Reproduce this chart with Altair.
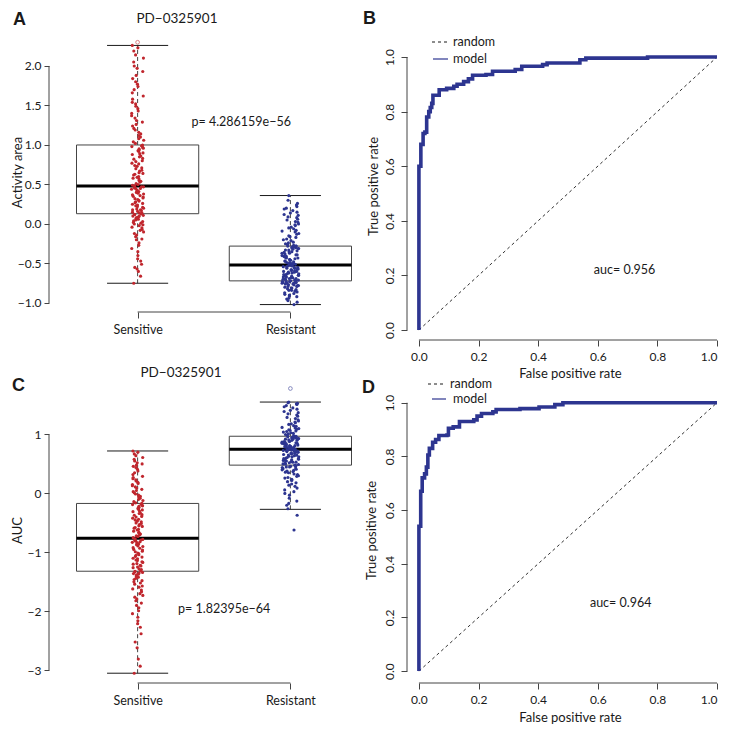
import altair as alt
import pandas as pd

FONT = "Lato"
RED = "#C0262D"
BLUE = "#2D3590"
INK = "#1a1a1a"
AX = "#444444"

categories = ["Sensitive", "Resistant"]
drug = "PD\u22120325901"

# ---------------- Panel A : Activity area ----------------
a_sensitive = [
    -0.75, -0.66, -0.60, -0.57, -0.55, -0.51, -0.47, -0.44, -0.40, -0.35, -0.31, -0.27, -0.24, -0.20,
    -0.19, -0.16, -0.14, -0.12, -0.10, -0.08, -0.07, -0.05, -0.04, -0.02, -0.01, 0.00, 0.01, 0.02,
    0.03, 0.04, 0.05, 0.06, 0.07, 0.08, 0.09, 0.10, 0.10, 0.11, 0.12, 0.12,
    0.13, 0.14, 0.14, 0.15, 0.16, 0.17, 0.18, 0.18, 0.19, 0.20, 0.21, 0.22, 0.23, 0.24, 0.25, 0.26,
    0.27, 0.28, 0.29, 0.30, 0.31, 0.32, 0.33, 0.34, 0.35, 0.36, 0.37, 0.38, 0.39, 0.40, 0.41, 0.42,
    0.43, 0.44, 0.45, 0.45, 0.46, 0.47, 0.47, 0.48,
    0.49, 0.50, 0.51, 0.53, 0.54, 0.55, 0.57, 0.58, 0.59, 0.60, 0.62, 0.63, 0.64, 0.65, 0.67, 0.68,
    0.70, 0.71, 0.73, 0.74, 0.76, 0.77, 0.79, 0.80, 0.82, 0.83, 0.85, 0.86, 0.88, 0.89, 0.90, 0.92,
    0.93, 0.94, 0.95, 0.96, 0.97, 0.98, 0.99, 1.00,
    1.02, 1.04, 1.06, 1.08, 1.10, 1.12, 1.14, 1.16, 1.19, 1.21, 1.24, 1.26, 1.29, 1.31, 1.34, 1.37,
    1.40, 1.43, 1.46, 1.49, 1.52, 1.54, 1.58, 1.62, 1.66, 1.70, 1.74, 1.77, 1.80, 1.84, 1.88, 1.93,
    1.97, 2.00, 2.05, 2.10, 2.14, 2.19, 2.23, 2.26,
]
a_resistant = [
    -1.02, -0.99, -0.97, -0.95, -0.94, -0.92, -0.91, -0.90, -0.89, -0.88, -0.87, -0.86, -0.85, -0.84,
    -0.84, -0.83, -0.82, -0.81, -0.81, -0.80, -0.79, -0.79, -0.78, -0.78, -0.77, -0.77, -0.76, -0.76,
    -0.75, -0.75, -0.75, -0.74, -0.74, -0.74, -0.73, -0.73, -0.73, -0.72, -0.72, -0.72,
    -0.71, -0.71, -0.70, -0.70, -0.70, -0.69, -0.69, -0.68, -0.68, -0.67, -0.67, -0.66, -0.66, -0.65,
    -0.65, -0.64, -0.64, -0.63, -0.63, -0.62, -0.62, -0.61, -0.61, -0.60, -0.60, -0.59, -0.59, -0.58,
    -0.58, -0.57, -0.57, -0.56, -0.56, -0.55, -0.55, -0.54, -0.54, -0.53, -0.53, -0.52,
    -0.51, -0.51, -0.50, -0.50, -0.49, -0.49, -0.48, -0.47, -0.47, -0.46, -0.45, -0.45, -0.44, -0.43,
    -0.43, -0.42, -0.41, -0.41, -0.40, -0.39, -0.39, -0.38, -0.37, -0.37, -0.36, -0.35, -0.35, -0.34,
    -0.33, -0.33, -0.32, -0.31, -0.31, -0.30, -0.30, -0.29, -0.29, -0.28, -0.28, -0.28,
    -0.27, -0.26, -0.25, -0.24, -0.23, -0.21, -0.20, -0.19, -0.17, -0.16, -0.15, -0.13, -0.12, -0.10,
    -0.09, -0.08, -0.06, -0.05, -0.04, -0.02, -0.01, 0.00, 0.02, 0.03, 0.05, 0.06, 0.08, 0.09,
    0.11, 0.12, 0.14, 0.15, 0.17, 0.19, 0.20, 0.22, 0.24, 0.26, 0.30, 0.36,
]
a_whisker_lo = [-0.75, -1.02]
a_q1 = [0.13, -0.72]
a_median = [0.48, -0.52]
a_q3 = [1.00, -0.28]
a_whisker_hi = [2.26, 0.36]
a_outlier_group = [1]
a_outlier_value = [2.30]
a_pvalue = "p= 4.286159e\u221256"
a_ticks = [-1.0, -0.5, 0.0, 0.5, 1.0, 1.5, 2.0]

# ---------------- Panel C : AUC ----------------
c_sensitive = [
    -3.05, -2.93, -2.81, -2.62, -2.52, -2.38, -2.27, -2.21, -2.16, -2.10, -2.04, -1.99, -1.94, -1.90,
    -1.86, -1.82, -1.79, -1.76, -1.73, -1.70, -1.67, -1.64, -1.62, -1.59, -1.57, -1.54, -1.52, -1.50,
    -1.48, -1.46, -1.44, -1.42, -1.40, -1.38, -1.37, -1.36, -1.35, -1.34, -1.33, -1.32,
    -1.31, -1.29, -1.28, -1.26, -1.25, -1.23, -1.22, -1.20, -1.19, -1.17, -1.16, -1.14, -1.13, -1.11,
    -1.10, -1.08, -1.07, -1.05, -1.04, -1.02, -1.01, -0.99, -0.98, -0.96, -0.95, -0.93, -0.92, -0.90,
    -0.89, -0.87, -0.86, -0.85, -0.84, -0.83, -0.82, -0.81, -0.80, -0.79, -0.78, -0.77,
    -0.75, -0.73, -0.72, -0.70, -0.69, -0.67, -0.66, -0.64, -0.62, -0.61, -0.59, -0.58, -0.56, -0.55,
    -0.53, -0.51, -0.50, -0.48, -0.47, -0.45, -0.44, -0.42, -0.40, -0.39, -0.37, -0.36, -0.34, -0.33,
    -0.31, -0.30, -0.28, -0.27, -0.25, -0.24, -0.22, -0.21, -0.20, -0.19, -0.18, -0.17,
    -0.16, -0.14, -0.12, -0.10, -0.08, -0.06, -0.05, -0.03, -0.01, 0.01, 0.03, 0.05, 0.07, 0.09,
    0.11, 0.13, 0.15, 0.17, 0.19, 0.21, 0.23, 0.25, 0.27, 0.29, 0.32, 0.35, 0.38, 0.41, 0.44, 0.46,
    0.48, 0.50, 0.52, 0.55, 0.58, 0.61, 0.64, 0.67, 0.70, 0.72,
]
c_resistant = [
    -0.62, -0.37, -0.26, -0.20, -0.17, -0.13, -0.08, -0.03, 0.00, 0.03, 0.06, 0.09, 0.12, 0.14,
    0.16, 0.18, 0.20, 0.22, 0.24, 0.26, 0.27, 0.29, 0.30, 0.32, 0.33, 0.35, 0.36, 0.37, 0.38, 0.39,
    0.40, 0.41, 0.42, 0.43, 0.44, 0.45, 0.45, 0.46, 0.47, 0.47,
    0.48, 0.49, 0.50, 0.50, 0.51, 0.52, 0.53, 0.53, 0.54, 0.55, 0.56, 0.56, 0.57, 0.58, 0.59, 0.59,
    0.60, 0.61, 0.62, 0.62, 0.63, 0.64, 0.65, 0.65, 0.66, 0.67, 0.68, 0.68, 0.69, 0.70, 0.70, 0.71,
    0.71, 0.72, 0.72, 0.73, 0.73, 0.74, 0.74, 0.75,
    0.75, 0.76, 0.76, 0.77, 0.77, 0.78, 0.78, 0.79, 0.79, 0.80, 0.80, 0.81, 0.81, 0.82, 0.82, 0.83,
    0.84, 0.84, 0.85, 0.85, 0.86, 0.87, 0.87, 0.88, 0.88, 0.89, 0.90, 0.90, 0.91, 0.92, 0.92, 0.93,
    0.93, 0.94, 0.94, 0.95, 0.95, 0.96, 0.96, 0.97,
    0.98, 0.99, 1.00, 1.01, 1.02, 1.03, 1.04, 1.05, 1.06, 1.07, 1.08, 1.09, 1.10, 1.11, 1.12, 1.14,
    1.15, 1.17, 1.18, 1.20, 1.21, 1.23, 1.25, 1.27, 1.29, 1.31, 1.33, 1.35, 1.37, 1.39, 1.41, 1.43,
    1.45, 1.47, 1.49, 1.51, 1.52, 1.53, 1.54, 1.55,
]
c_whisker_lo = [-3.05, -0.27]
c_q1 = [-1.32, 0.48]
c_median = [-0.76, 0.75]
c_q3 = [-0.17, 0.97]
c_whisker_hi = [0.72, 1.55]
c_outlier_group = [2]
c_outlier_value = [1.78]
c_pvalue = "p= 1.82395e\u221264"
c_ticks = [-3, -2, -1, 0, 1]

# ---------------- ROC curves ----------------
b_fpr = [0, 0, 0.0065, 0.014, 0.02, 0.026, 0.033, 0.038, 0.043, 0.047, 0.068, 0.093, 0.117, 0.128,
         0.15, 0.166, 0.18, 0.225, 0.247, 0.323, 0.345, 0.415, 0.43, 0.54, 0.56, 0.767, 1.0]
b_tpr = [0, 0.60, 0.68, 0.72, 0.725, 0.78, 0.80, 0.815, 0.83, 0.86, 0.88, 0.885, 0.893, 0.90,
         0.91, 0.92, 0.933, 0.936, 0.948, 0.954, 0.966, 0.972, 0.978, 0.99, 0.996, 1.0, 1.0]
b_auc = "auc= 0.956"

d_fpr = [0, 0, 0.006, 0.011, 0.019, 0.025, 0.03, 0.035, 0.046, 0.056, 0.067, 0.094, 0.099, 0.115,
         0.136, 0.184, 0.195, 0.21, 0.248, 0.259, 0.339, 0.403, 0.456, 0.483, 1.0]
d_tpr = [0, 0.54, 0.67, 0.72, 0.735, 0.76, 0.805, 0.83, 0.853, 0.863, 0.878, 0.88, 0.905, 0.91,
         0.93, 0.936, 0.95, 0.96, 0.966, 0.975, 0.978, 0.984, 0.993, 1.0, 1.0]
d_auc = "auc= 0.964"
roc_ticks = [0.0, 0.2, 0.4, 0.6, 0.8, 1.0]

one = pd.DataFrame({"k": [0]})
cat_expr = f"datum.value == 1 ? '{categories[0]}' : '{categories[1]}'"


def label_text(txt, x, y, size=13, weight="normal", font=FONT, align="center"):
    return alt.Chart(one).mark_text(font=font, fontSize=size, fontWeight=weight, align=align,
                                    baseline="middle", color=INK).encode(
        x=alt.value(x), y=alt.value(y), text=alt.value(txt))


def box_panel(sens, res, lo, q1, med, q3, hi, out_g, out_v, ydom, yticks, yfmt, ytitle,
              w, h, jit, ptxt, px, py, letter, lx, ly, tx, ty, ytx):
    xsc = alt.Scale(domain=[0.42, 2.58], nice=False, zero=False)
    ysc = alt.Scale(domain=ydom, nice=False, zero=False)
    xax = alt.Axis(values=[1, 2], labelExpr=cat_expr, domain=False, grid=False, tickSize=6,
                   labelPadding=5, labelFontSize=12.5, title=None)
    yax = alt.Axis(values=yticks, format=yfmt, domain=False, grid=False, tickSize=5, labelPadding=3,
                   title=ytitle, titleX=ytx, titleY=h / 2, titleAngle=270, titleBaseline="middle",
                   titleAlign="center")

    def X(f):
        return alt.X(f, type="quantitative", scale=xsc, axis=xax)

    def Y(f):
        return alt.Y(f, type="quantitative", scale=ysc, axis=yax)

    colr = alt.condition("datum.g == 1", alt.value(RED), alt.value(BLUE))

    pts = pd.DataFrame({"g": [1] * len(sens) + [2] * len(res), "v": sens + res})
    pts["i"] = range(len(pts))
    points = alt.Chart(pts).transform_calculate(
        hh="sin(datum.i * 12.9898 + datum.g * 78.233) * 43758.5453"
    ).transform_calculate(
        xj=f"datum.g + (datum.hh - floor(datum.hh) - 0.5) * (datum.g == 1 ? {jit[0]} : {jit[1]})"
    ).mark_circle(size=10, opacity=1).encode(x=X("xj"), y=Y("v"), color=colr)

    bx = pd.DataFrame({"g": [1, 2], "lo": lo, "q1": q1, "med": med, "q3": q3, "hi": hi})
    base = alt.Chart(bx).transform_calculate(
        bl="datum.g - 0.4", br="datum.g + 0.4", cl="datum.g - 0.2", cr="datum.g + 0.2")
    boxes = base.mark_rect(fill="white", fillOpacity=0, stroke=AX, strokeWidth=1).encode(
        x=X("bl"), x2="br", y=Y("q1"), y2="q3")
    wup = base.mark_rule(strokeDash=[4, 3], color=AX, strokeWidth=1).encode(x=X("g"), y=Y("q3"), y2="hi")
    wdn = base.mark_rule(strokeDash=[4, 3], color=AX, strokeWidth=1).encode(x=X("g"), y=Y("lo"), y2="q1")
    chi = base.mark_rule(color=INK, strokeWidth=1).encode(x=X("cl"), x2="cr", y=Y("hi"))
    clo = base.mark_rule(color=INK, strokeWidth=1).encode(x=X("cl"), x2="cr", y=Y("lo"))
    meds = base.mark_rule(color="black", strokeWidth=3).encode(x=X("bl"), x2="br", y=Y("med"))

    outl = alt.Chart(pd.DataFrame({"g": out_g, "v": out_v})).mark_point(
        shape="circle", filled=False, size=14, strokeWidth=0.8).encode(x=X("g"), y=Y("v"), color=colr)

    axd = pd.DataFrame({"y0": [yticks[0]], "y1": [yticks[-1]], "x0": [1], "x1": [2]})
    yline = alt.Chart(axd).mark_rule(color=AX, strokeWidth=1).encode(x=alt.value(0), y=Y("y0"), y2="y1")
    xline = alt.Chart(axd).mark_rule(color=AX, strokeWidth=1).encode(y=alt.value(h), x=X("x0"), x2="x1")

    ptx = alt.Chart(pd.DataFrame({"x": [px], "y": [py], "t": [ptxt]})).mark_text(
        font=FONT, fontSize=12.5, color=INK).encode(x=X("x"), y=Y("y"), text="t:N")

    return alt.layer(
        yline, xline, boxes, wup, wdn, chi, clo, meds, outl, points, ptx,
        label_text(drug, tx, ty, size=13.5),
        label_text(letter, lx, ly, size=18, weight="bold", font="Liberation Sans", align="left"),
    ).properties(width=w, height=h)


def roc_panel(fpr, tpr, auc_txt, ax, ay, ydom, w, h, letter, lx, ly, leg, ytx, xty):
    xsc = alt.Scale(domain=[-0.04, 1.0], nice=False, zero=False)
    ysc = alt.Scale(domain=ydom, nice=False, zero=False)
    xax = alt.Axis(values=roc_ticks, format=".1f", domain=False, grid=False, tickSize=6, labelPadding=5,
                   title="False positive rate", titleX=w / 2 + 8, titleY=xty, titleBaseline="middle",
                   titleAlign="center")
    yax = alt.Axis(values=roc_ticks, format=".1f", domain=False, grid=False, tickSize=6, labelPadding=5,
                   labelAngle=270, labelAlign="center", labelBaseline="bottom",
                   title="True positive rate", titleX=ytx, titleY=h / 2, titleAngle=270,
                   titleBaseline="middle", titleAlign="center")

    def X(f):
        return alt.X(f, type="quantitative", scale=xsc, axis=xax)

    def Y(f):
        return alt.Y(f, type="quantitative", scale=ysc, axis=yax)

    axd = pd.DataFrame({"a": [0.0], "b": [1.0]})
    yline = alt.Chart(axd).mark_rule(color=AX, strokeWidth=1).encode(x=alt.value(0), y=Y("a"), y2="b")
    xline = alt.Chart(axd).mark_rule(color=AX, strokeWidth=1).encode(y=alt.value(h), x=X("a"), x2="b")
    diag = alt.Chart(axd).mark_rule(color=INK, strokeWidth=0.9, strokeDash=[3, 3]).encode(
        x=X("a"), y=Y("a"), x2="b", y2="b")
    roc = pd.DataFrame({"fpr": fpr, "tpr": tpr})
    roc["o"] = range(len(roc))
    curve = alt.Chart(roc).mark_line(interpolate="step-after", color=BLUE, strokeWidth=3.6).encode(
        x=X("fpr"), y=Y("tpr"), order="o:Q")
    auc = alt.Chart(pd.DataFrame({"x": [ax], "y": [ay], "t": [auc_txt]})).mark_text(
        font=FONT, fontSize=12.5, color=INK).encode(x=X("x"), y=Y("y"), text="t:N")

    (rx0, rx1, ry, rtx), (mx0, mx1, my, mtx) = leg
    lrand = alt.Chart(one).mark_rule(color=INK, strokeWidth=1, strokeDash=[3, 3]).encode(
        x=alt.value(rx0), x2=alt.value(rx1), y=alt.value(ry))
    lmod = alt.Chart(one).mark_rule(color=BLUE, strokeWidth=1.2).encode(
        x=alt.value(mx0), x2=alt.value(mx1), y=alt.value(my))

    return alt.layer(
        yline, xline, diag, curve, auc, lrand, lmod,
        label_text("random", rtx, ry, size=12.5, align="left"),
        label_text("model", mtx, my, size=12.5, align="left"),
        label_text(letter, lx, ly, size=18, weight="bold", font="Liberation Sans", align="left"),
    ).properties(width=w, height=h)


A = box_panel(a_sensitive, a_resistant, a_whisker_lo, a_q1, a_median, a_q3, a_whisker_hi,
              a_outlier_group, a_outlier_value, [-1.114, 2.430], a_ticks, ".1f", "Activity area",
              330, 280, [0.08, 0.11], a_pvalue, 1.678, 1.297, "A", -36, -12, 128, -13, -32)
B = roc_panel(b_fpr, b_tpr, b_auc, 0.69, 0.221, [-0.0366, 1.0916], 310, 308, "B", -44, -13,
              ((25, 40, 10, 46), (26, 41, 27, 46)), -34, 33)
C = box_panel(c_sensitive, c_resistant, c_whisker_lo, c_q1, c_median, c_q3, c_whisker_hi,
              c_outlier_group, c_outlier_value, [-3.216, 1.975], c_ticks, "d", "AUC",
              330, 306, [0.07, 0.11], c_pvalue, 1.567, -1.954, "C", -37, 9, 132, -4, -32)
D = roc_panel(d_fpr, d_tpr, d_auc, 0.677, 0.2545, [-0.0443, 1.0959], 310, 306, "D", -45, 11,
              ((21, 36, 7, 43), (25, 39, 22, 46)), -36, 34)

chart = alt.concat(
    A, B, C, D, columns=2, spacing={"row": 37, "column": 28}, bounds="flush",
    padding={"left": 3, "top": 2, "right": 0, "bottom": 0},
    background="white",
).configure_view(stroke=None).configure_axis(
    labelFont=FONT, titleFont=FONT, labelColor=INK, titleColor=INK, tickColor=AX,
    labelFontSize=12, titleFontSize=13, titleFontWeight="normal",
)

chart.save("out.html", embed_options={"renderer": "svg", "actions": False})
